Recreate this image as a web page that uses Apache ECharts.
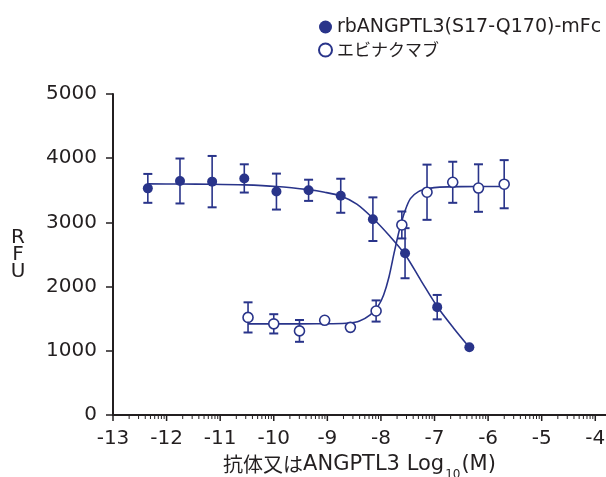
<!DOCTYPE html>
<html><head><meta charset="utf-8">
<script src="https://cdn.jsdelivr.net/npm/echarts@6/dist/echarts.min.js"></script>
<style>html,body{margin:0;padding:0;background:#fff}#c{width:606px;height:477px}</style>
</head><body><div id="c"></div>
<script>
// ---- data ----
const seriesNames = ['rbANGPTL3(S17-Q170)-mFc', 'エビナクマブ'];
const ligandX   = [-12.35, -11.75, -11.15, -10.55, -9.95, -9.35, -8.75, -8.15, -7.55, -6.95, -6.35];
const ligandY   = [3530, 3645, 3635, 3685, 3480, 3500, 3415, 3050, 2520, 1680, 1055];
const ligandErr = [225, 350, 400, 220, 280, 165, 265, 340, 390, 190, 0];
const antibodyX   = [-10.48, -10.00, -9.52, -9.05, -8.57, -8.09, -7.61, -7.14, -6.66, -6.18, -5.70];
const antibodyY   = [1520, 1420, 1310, 1475, 1365, 1620, 2960, 3470, 3625, 3535, 3595];
const antibodyErr = [235, 150, 170, 0, 0, 165, 210, 430, 320, 370, 375];
// fitted curves, sampled by eye from the reference
const ligandFitX = [-12.35, -11.75, -11.15, -10.55, -9.95, -9.35, -9.05, -8.75, -8.45, -8.15, -7.85, -7.55, -7.25, -6.95, -6.65, -6.35];
const ligandFitY = [3600, 3598, 3595, 3585, 3560, 3510, 3470, 3410, 3285, 3065, 2800, 2500, 2090, 1690, 1360, 1054];
const antibodyFitX = [-10.48, -9.5, -8.9, -8.6, -8.4, -8.2, -8.05, -7.95, -7.85, -7.75, -7.65, -7.55, -7.45, -7.3, -7.1, -6.9, -6.5, -5.70];
const antibodyFitY = [1420, 1420, 1422, 1432, 1465, 1560, 1700, 1870, 2150, 2540, 2900, 3180, 3370, 3480, 3530, 3550, 3558, 3560];
const xTickLabels = [-13, -12, -11, -10, -9, -8, -7, -6, -5, -4];
const yTickLabels = [0, 1000, 2000, 3000, 4000, 5000];
const xTitle = ['抗体又は', 'ANGPTL3 Log', '10', '(M)'];
const yTitle = 'RFU';

// ---- styling ----
const C = '#29348a';
const AX = '#231f20';
const LAT = '"DejaVu Sans", "Noto Sans", sans-serif';
const CJK = '"Noto Sans CJK JP", sans-serif';

const minorTicks = [];
for (let i = 0; i < xTickLabels.length - 1; i++) {
  for (let k = 2; k <= 9; k++) minorTicks.push([xTickLabels[i] + Math.log10(k)]);
}
const majorTicks = xTickLabels.map(v => [v]);

function tickSeries(data, len, lw) {
  return {
    type: 'custom', data: data, silent: true, clip: false, z: 1,
    renderItem: (p, api) => {
      const pt = api.coord([api.value(0), 0]);
      return { type: 'line', shape: { x1: pt[0], y1: pt[1], x2: pt[0], y2: pt[1] + len },
               style: { stroke: AX, lineWidth: lw } };
    }
  };
}
function errSeries(xs, ys, es) {
  return {
    type: 'custom', silent: true, clip: false, z: 2,
    data: xs.map((x, i) => [x, ys[i], es[i]]),
    renderItem: (p, api) => {
      const x = api.value(0), y = api.value(1), e = api.value(2);
      if (!e) return;
      const t = api.coord([x, y + e]), b = api.coord([x, y - e]);
      const hw = 4.5;
      return { type: 'group', children: [
        { type: 'line', shape: { x1: t[0], y1: t[1], x2: b[0], y2: b[1] }, style: { stroke: C, lineWidth: 1.6 } },
        { type: 'line', shape: { x1: t[0] - hw, y1: t[1], x2: t[0] + hw, y2: t[1] }, style: { stroke: C, lineWidth: 2 } },
        { type: 'line', shape: { x1: b[0] - hw, y1: b[1], x2: b[0] + hw, y2: b[1] }, style: { stroke: C, lineWidth: 2 } }
      ]};
    }
  };
}

const chart = echarts.init(document.getElementById('c'), null, { renderer: 'canvas' });
chart.setOption({
  animation: false,
  backgroundColor: '#fff',
  textStyle: { fontFamily: LAT },
  grid: { left: 113, right: 0, top: 94, bottom: 62, containLabel: false, outerBoundsMode: 'none' },
  legend: {
    orient: 'vertical', left: 318, top: 17, padding: 0, itemWidth: 13, itemHeight: 13, itemGap: 3,
    formatter: n => n === seriesNames[1] ? '{j|' + n + '}' : '{l|' + n + '}',
    textStyle: { color: AX, fontSize: 19, lineHeight: 20,
      rich: {
        l: { fontFamily: LAT, fontSize: 19, color: AX, lineHeight: 20 },
        j: { fontFamily: CJK, fontSize: 17, color: AX, lineHeight: 20 }
      }
    },
    data: [
      { name: seriesNames[0], icon: 'circle', itemStyle: { color: C, borderWidth: 0 } },
      { name: seriesNames[1], icon: 'circle', itemStyle: { color: '#fff', borderColor: C, borderWidth: 2 } }
    ]
  },
  xAxis: {
    type: 'value', min: -13, max: -3.8, interval: 1,
    axisLine: { show: true, lineStyle: { color: AX, width: 2 } },
    axisTick: { show: false },
    splitLine: { show: false },
    axisLabel: {
      color: AX, fontSize: 20, fontFamily: LAT, margin: 14,
      formatter: v => Math.abs(v - Math.round(v)) < 1e-6 ? String(Math.round(v)) : ''
    },
    name: '{j|' + xTitle[0] + '}{a|' + xTitle[1] + '}{s|' + xTitle[2] + '}{a|' + xTitle[3] + '}',
    nameLocation: 'middle', nameGap: 35,
    nameTextStyle: {
      color: AX,
      rich: {
        j: { fontSize: 20, fontFamily: CJK, color: AX, verticalAlign: 'bottom', lineHeight: 24 },
        a: { fontSize: 21, fontFamily: LAT, color: AX, verticalAlign: 'bottom', lineHeight: 24 },
        s: { fontSize: 12, fontFamily: LAT, color: AX, verticalAlign: 'bottom', lineHeight: 18, padding: [0, 1, -6, 1] }
      }
    }
  },
  yAxis: {
    type: 'value', min: 0, max: 5000, interval: 1000,
    axisLine: { show: true, lineStyle: { color: AX, width: 2 } },
    axisTick: { show: true, inside: false, length: 7, lineStyle: { color: AX, width: 1.5 } },
    splitLine: { show: false },
    axisLabel: { color: AX, fontSize: 20, fontFamily: LAT, margin: 16,
      formatter: v => String(v) },
    name: yTitle.split('').join('\n'),
    nameLocation: 'middle', nameGap: 95, nameRotate: 0,
    nameTextStyle: { color: AX, fontSize: 20, fontFamily: LAT, lineHeight: 17, align: 'center', verticalAlign: 'middle', padding: [0, 0, 14, 0] }
  },
  series: [
    tickSeries(minorTicks, 4, 1),
    tickSeries(majorTicks, 6, 1.5),
    { type: 'line', name: 'fit1', data: ligandFitX.map((x, i) => [x, ligandFitY[i]]), showSymbol: false,
      smooth: 0.3, lineStyle: { color: C, width: 1.6 }, silent: true, z: 2 },
    { type: 'line', name: 'fit2', data: antibodyFitX.map((x, i) => [x, antibodyFitY[i]]), showSymbol: false,
      smooth: 0.3, lineStyle: { color: C, width: 1.6 }, silent: true, z: 2 },
    errSeries(ligandX, ligandY, ligandErr),
    errSeries(antibodyX, antibodyY, antibodyErr),
    { type: 'scatter', name: seriesNames[0], data: ligandX.map((x, i) => [x, ligandY[i]]),
      symbol: 'circle', symbolSize: 10, itemStyle: { color: C, opacity: 1 }, z: 5 },
    { type: 'scatter', name: seriesNames[1], data: antibodyX.map((x, i) => [x, antibodyY[i]]),
      symbol: 'circle', symbolSize: 10, itemStyle: { color: '#fff', borderColor: C, borderWidth: 1.6, opacity: 1 }, z: 5 }
  ]
});
</script>
</body></html>
